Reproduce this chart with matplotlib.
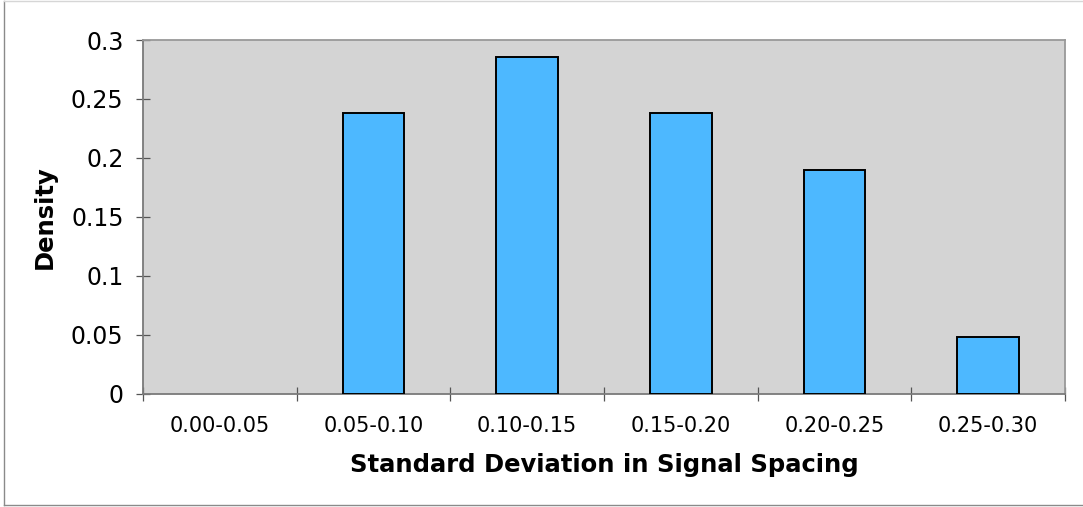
import matplotlib
matplotlib.use("Agg")
import matplotlib.pyplot as plt
from matplotlib.lines import Line2D

# Histogram data: density of standard deviation in signal spacing
categories = ["0.00-0.05", "0.05-0.10", "0.10-0.15", "0.15-0.20", "0.20-0.25", "0.25-0.30"]
density = [0.0, 0.238, 0.286, 0.238, 0.190, 0.048]
y_ticks = [0, 0.05, 0.1, 0.15, 0.2, 0.25, 0.3]
y_tick_labels = ["0", "0.05", "0.1", "0.15", "0.2", "0.25", "0.3"]

plt.rcParams["font.family"] = ["DejaVu Sans"]

fig = plt.figure(figsize=(10.83, 5.07), dpi=100)
fig.patch.set_facecolor("white")

# thin frame around the chart: left and bottom darker, top lighter
x0, y0, y1 = 3.5 / 1083, 2 / 507, 1 - 1 / 507
fig.add_artist(Line2D([x0, x0], [y0, y1], transform=fig.transFigure, color="#8a8a8a", lw=1.0))
fig.add_artist(Line2D([x0, 1.0], [y0, y0], transform=fig.transFigure, color="#8a8a8a", lw=1.0))
fig.add_artist(Line2D([x0, 1.0], [y1, y1], transform=fig.transFigure, color="#d6d6d6", lw=1.0))

ax = fig.add_axes([143 / 1083, 1 - 393.7 / 507, 922 / 1083, 353.7 / 507])
ax.set_facecolor("#d4d4d4")

centers = [i + 0.5 for i in range(len(categories))]
bars = ax.bar(centers, density, width=0.4, color="#4db8ff", edgecolor="black",
              linewidth=1.4, zorder=3)
# empty bins show no outline
for patch, value in zip(bars, density):
    if value == 0:
        patch.set_linewidth(0)

ax.set_xlim(0, len(categories))
ax.set_ylim(0, 0.3)

# category boundaries carry the tick marks, labels sit between them
ax.set_xticks(range(len(categories) + 1))
ax.set_xticklabels([])
ax.set_xticks(centers, minor=True)
ax.set_xticklabels(categories, minor=True, fontsize=15)
ax.tick_params(axis="x", which="major", direction="inout", length=9.5, width=0.9, color="#555555")
ax.tick_params(axis="x", which="minor", length=0, pad=16)

ax.set_yticks(y_ticks)
ax.set_yticklabels(y_tick_labels, fontsize=17)
ax.tick_params(axis="y", direction="inout", length=10, width=0.9, color="#555555", pad=9)

for side in ("left", "bottom"):
    ax.spines[side].set_color("#7a7a7a")
    ax.spines[side].set_linewidth(1.3)
for side in ("top", "right"):
    ax.spines[side].set_color("#999999")
    ax.spines[side].set_linewidth(1.3)

ax.set_xlabel("Standard Deviation in Signal Spacing", fontsize=17.5, fontweight="bold", labelpad=12)
ax.set_ylabel("Density", fontsize=17.5, fontweight="bold", labelpad=10)

fig.savefig("out.png", dpi=100, facecolor="white")
